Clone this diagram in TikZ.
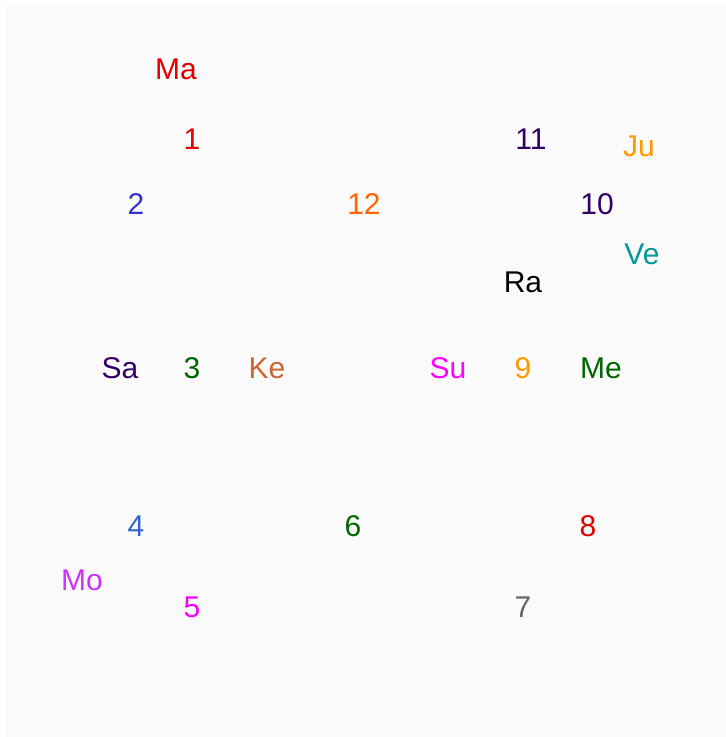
\documentclass[tikz,border=0pt]{standalone}
\usepackage{fontspec}
\setmainfont{Liberation Sans}
\usetikzlibrary{positioning}
\definecolor{bgray}{HTML}{FAFAFA}
\definecolor{plred}{HTML}{E00000}
\definecolor{plblue}{HTML}{3333CC}
\definecolor{plsky}{HTML}{3366CC}
\definecolor{plorange}{HTML}{FF6600}
\definecolor{plgold}{HTML}{FF9900}
\definecolor{plindigo}{HTML}{330066}
\definecolor{plteal}{HTML}{009999}
\definecolor{plgreen}{HTML}{006600}
\definecolor{plbrown}{HTML}{CC6633}
\definecolor{plmagenta}{HTML}{FF00FF}
\definecolor{plviolet}{HTML}{CC33FF}
\definecolor{plgray}{HTML}{666666}

\begin{document}
\begin{tikzpicture}[
      x=1pt, y=-1pt,
      every node/.style={font=\fontsize{30}{34}\selectfont, inner sep=0pt},
      house/.style={text=#1},
      planet/.style={text=#1},
    ]
    \useasboundingbox (0,0) rectangle (726,737);
    \fill[bgray] (5,5) rectangle (726,737);

    % houses
    \node[house=plred] (h1) at (192,139) {1};
    \node[house=plblue] (h2) at (136,204) {2};
    \node[house=plgreen] (h3) at (192,368) {3};
    \node[house=plsky] (h4) at (136,526) {4};
    \node[house=plmagenta] (h5) at (192,607) {5};
    \node[house=plgreen] (h6) at (353,526) {6};
    \node[house=plgray] (h7) at (523,607) {7};
    \node[house=plred] (h8) at (588,526) {8};
    \node[house=plgold] (h9) at (523,368) {9};
    \node[house=plindigo] (h10) at (597,204) {10};
    \node[house=plindigo] (h11) at (531,139) {11};
    \node[house=plorange] (h12) at (364,204) {12};

    % planets
    \node[planet=plred] (ma) at (176,69) {Ma};
    \node[planet=plgold] (ju) at (639,146) {Ju};
    \node[planet=plteal] (ve) at (642,254) {Ve};
    \node[planet=black] (ra) at (523,282) {Ra};
    \node[planet=plindigo] (sa) at (120,368) {Sa};
    \node[planet=plbrown] (ke) at (267,368) {Ke};
    \node[planet=plmagenta] (su) at (448,368) {Su};
    \node[planet=plgreen] (me) at (601,368) {Me};
    \node[planet=plviolet] (mo) at (82,580) {Mo};
  \end{tikzpicture}
\end{document}
